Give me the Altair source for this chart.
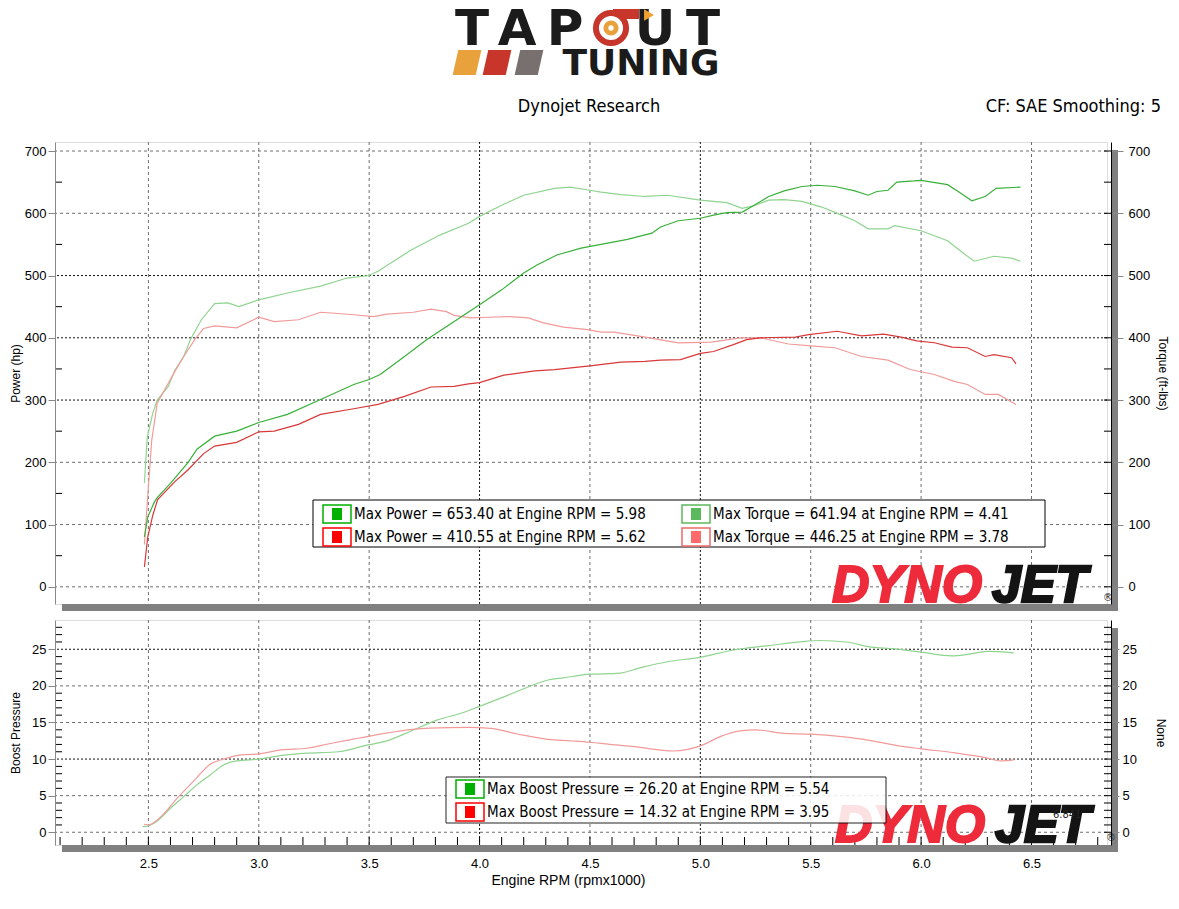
import altair as alt
import pandas as pd

# ---------------- data ----------------
# Run A (green) power, hp
pa_rpm = [2.482, 2.497, 2.527, 2.542, 2.60, 2.68, 2.72, 2.80, 2.90, 3.00, 3.13, 3.28, 3.43, 3.50, 3.55,
          3.66, 3.76, 3.885, 4.00, 4.10, 4.20, 4.26, 4.35, 4.46, 4.55, 4.67, 4.78, 4.82, 4.90, 5.00,
          5.06, 5.12, 5.19, 5.24, 5.31, 5.38, 5.46, 5.53, 5.61, 5.70, 5.76, 5.80, 5.85, 5.89, 5.97,
          6.00, 6.12, 6.18, 6.23, 6.29, 6.34, 6.45]
pa_hp = [80, 112, 136, 144, 166, 200, 221, 242, 250, 264, 277, 301, 325, 333, 341,
         370, 397, 426, 453, 477, 504, 517, 533, 544, 550, 558, 568, 578, 588, 592,
         597, 601, 602, 612, 627, 636, 643, 645, 643, 636, 629, 635, 637, 650, 652,
         653, 646, 632, 620, 627, 640, 642]

# Run B (red) power, hp
pb_rpm = [2.482, 2.497, 2.52, 2.542, 2.62, 2.68, 2.75, 2.80, 2.90, 3.00, 3.07, 3.18, 3.28, 3.43, 3.54,
          3.66, 3.78, 3.885, 3.95, 4.00, 4.11, 4.25, 4.34, 4.50, 4.64, 4.75, 4.82, 4.91, 5.00, 5.06,
          5.15, 5.21, 5.27, 5.43, 5.49, 5.62, 5.73, 5.83, 5.91, 5.98, 6.06, 6.14, 6.21, 6.29, 6.33,
          6.41, 6.43]
pb_hp = [32, 80, 115, 140, 169, 188, 214, 226, 232, 249, 250, 261, 277, 286, 293,
         306, 321, 322, 326, 328, 340, 347, 349, 355, 361, 362, 364, 365, 375, 378,
         389, 397, 400, 401, 405, 410.5, 403, 406, 401, 395, 392, 385, 384, 370, 373,
         368, 358]

# Run A (green) torque, ft-lbs
ta_rpm = [2.482, 2.495, 2.52, 2.54, 2.59, 2.62, 2.66, 2.69, 2.74, 2.80, 2.86, 2.91, 3.00, 3.13, 3.28,
          3.40, 3.50, 3.54, 3.69, 3.82, 3.95, 4.00, 4.10, 4.20, 4.34, 4.41, 4.50, 4.55, 4.64, 4.75,
          4.85, 5.00, 5.12, 5.19, 5.24, 5.31, 5.38, 5.46, 5.55, 5.64, 5.70, 5.76, 5.85, 5.88, 6.00,
          6.12, 6.18, 6.24, 6.33, 6.41, 6.45]
ta_tq = [167, 241, 279, 300, 322, 348, 370, 397, 429, 455, 456, 450, 461, 472, 483,
         496, 500, 507, 541, 565, 584, 595, 613, 629, 640, 642, 637, 634, 630, 627,
         629, 621, 617, 608, 612, 621, 622, 619, 610, 597, 588, 575, 575, 580, 572,
         556, 539, 523, 531, 528, 523]

# Run B (red) torque, ft-lbs
tb_rpm = [2.482, 2.50, 2.515, 2.54, 2.59, 2.62, 2.66, 2.71, 2.75, 2.80, 2.90, 3.00, 3.07, 3.18, 3.28,
          3.36, 3.43, 3.52, 3.58, 3.70, 3.78, 3.85, 3.885, 3.96, 4.04, 4.14, 4.22, 4.29, 4.38, 4.49,
          4.55, 4.61, 4.75, 4.90, 5.05, 5.18, 5.27, 5.40, 5.50, 5.61, 5.73, 5.85, 5.95, 6.06, 6.15,
          6.21, 6.29, 6.35, 6.43]
tb_tq = [68, 160, 235, 295, 327, 346, 370, 397, 415, 419, 416, 433, 426, 429, 441,
         439, 437, 434, 438, 441, 446, 442, 436, 432, 433, 434, 432, 424, 417, 413,
         409, 409, 401, 392, 393, 400, 400, 390, 387, 384, 370, 364, 349, 341, 330,
         325, 309, 309, 293]

# Boost pressure, run A (green)
ba_rpm = [2.474, 2.497, 2.54, 2.60, 2.66, 2.72, 2.78, 2.84, 2.90, 3.00, 3.10, 3.22, 3.36, 3.48, 3.58,
          3.69, 3.81, 3.93, 4.00, 4.11, 4.20, 4.31, 4.38, 4.50, 4.625, 4.73, 4.85, 5.00, 5.15, 5.31,
          5.46, 5.54, 5.67, 5.76, 5.88, 6.00, 6.14, 6.21, 6.30, 6.42]
ba_psi = [0.77, 0.86, 1.55, 3.28, 4.87, 6.47, 7.83, 9.2, 9.75, 10.0, 10.47, 10.8, 11.0, 11.84, 12.48,
          13.84, 15.35, 16.4, 17.2, 18.5, 19.6, 20.8, 21.1, 21.6, 21.7, 22.5, 23.3, 23.9, 24.9, 25.5,
          26.05, 26.2, 25.96, 25.36, 25.05, 24.6, 24.1, 24.3, 24.7, 24.5]

# Boost pressure, run B (red)
bb_rpm = [2.48, 2.50, 2.557, 2.63, 2.71, 2.78, 2.84, 2.92, 3.00, 3.10, 3.22, 3.33, 3.45, 3.57, 3.70,
          3.86, 3.95, 4.05, 4.17, 4.31, 4.41, 4.50, 4.59, 4.70, 4.88, 5.00, 5.09, 5.18, 5.25, 5.38,
          5.50, 5.64, 5.76, 5.88, 6.00, 6.14, 6.29, 6.36, 6.42]
bb_psi = [1.1, 1.0, 2.14, 4.64, 7.15, 9.3, 10.0, 10.56, 10.7, 11.25, 11.48, 12.16, 12.84, 13.52, 14.07,
          14.3, 14.32, 14.2, 13.43, 12.7, 12.5, 12.3, 12.0, 11.7, 11.1, 11.8, 13.07, 13.84, 14.0, 13.5,
          13.4, 13.07, 12.6, 11.9, 11.4, 10.9, 10.2, 9.75, 9.9]

# tick values / labels
x_grid = [2.5, 3.0, 3.5, 4.0, 4.5, 5.0, 5.5, 6.0, 6.5]
x_grid_dark = [4.0, 5.0]
x_minor = [round(2.1 + 0.1 * i, 1) for i in range(48)]
y1_major = [0, 100, 200, 300, 400, 500, 600, 700]
y1_dark = [300, 400, 500]
y1_minor = [50, 150, 250, 350, 450, 550, 650]
y2_major = [0, 5, 10, 15, 20, 25]
y2_dark = [10, 25]
y2_minor = [v for v in range(0, 29) if v % 5 != 0]
y2_all = list(range(0, 29))

top_legend = ["Max Power = 653.40 at Engine RPM = 5.98", "Max Torque = 641.94 at Engine RPM = 4.41",
              "Max Power = 410.55 at Engine RPM = 5.62", "Max Torque = 446.25 at Engine RPM = 3.78"]
bot_legend = ["Max Boost Pressure = 26.20 at Engine RPM = 5.54",
              "Max Boost Pressure = 14.32 at Engine RPM = 3.95"]

# ---------------- styling ----------------
FONT = "DejaVu Sans Condensed, Liberation Sans, DejaVu Sans, sans-serif"
LOGO_FONT = "DejaVu Sans"
W, H1, H2 = 1052, 462, 225
X_DOM = [2.077, 6.842]
Y1_DOM = [-27.6, 714.5]
Y2_DOM = [-1.74, 29.0]
GRID = "#6E6E6E"
GRID_DARK = "#111111"

xs = alt.Scale(domain=X_DOM, nice=False, zero=False)
y1s = alt.Scale(domain=Y1_DOM, nice=False, zero=False)
y2s = alt.Scale(domain=Y2_DOM, nice=False, zero=False)

one = pd.DataFrame({"k": [0]})


def txt(text, x, y, size=15, color="black", align="left", baseline="middle",
        weight="normal", style="normal", font=FONT, stroke=None, sw=0):
    kw = dict(text=text, align=align, baseline=baseline, fontSize=size, color=color, font=font,
              fontWeight=weight, fontStyle=style)
    if stroke:
        kw.update(stroke=stroke, strokeWidth=sw)
    return alt.Chart(one).mark_text(**kw).encode(x=alt.value(x), y=alt.value(y))


def box(x, x2, y, y2, fill="white", stroke=None, sw=1, opacity=1.0):
    kw = dict(fill=fill, opacity=opacity)
    if stroke:
        kw.update(stroke=stroke, strokeWidth=sw)
    return alt.Chart(one).mark_rect(**kw).encode(
        x=alt.value(x), x2=alt.value(x2), y=alt.value(y), y2=alt.value(y2))


def sym(x, y, shape, size, fill, stroke=None, sw=0):
    kw = dict(shape=shape, size=size, fill=fill, filled=True, opacity=1)
    if stroke:
        kw.update(stroke=stroke, strokeWidth=sw)
    else:
        kw.update(strokeWidth=0)
    return alt.Chart(one).mark_point(**kw).encode(x=alt.value(x), y=alt.value(y))


def hgrid(vals, scale, axis, dark=False):
    return alt.Chart(pd.DataFrame({"g": vals})).mark_rule(
        strokeDash=([2, 2] if dark else [3, 3]), color=(GRID_DARK if dark else GRID),
        strokeWidth=1).encode(y=alt.Y("g:Q", scale=scale, axis=axis))


def vgrid(vals, axis, dark=False):
    return alt.Chart(pd.DataFrame({"g": vals})).mark_rule(
        strokeDash=([2, 2] if dark else [3, 3]), color=(GRID_DARK if dark else GRID),
        strokeWidth=1).encode(x=alt.X("g:Q", scale=xs, axis=axis))


def yticks(vals, scale, x0, x1):
    return alt.Chart(pd.DataFrame({"v": vals})).mark_rule(color="black", strokeWidth=1).encode(
        y=alt.Y("v:Q", scale=scale, axis=None), x=alt.value(x0), x2=alt.value(x1))


def lines(df, scale, xaxis, yaxis, names, colors, interp="linear"):
    return alt.Chart(df).mark_line(strokeWidth=1.2, interpolate=interp).encode(
        x=alt.X("rpm:Q", scale=xs, axis=xaxis),
        y=alt.Y("val:Q", scale=scale, axis=yaxis),
        color=alt.Color("s:N", scale=alt.Scale(domain=names, range=colors), legend=None),
    )


def sdf(rpm, val, name):
    return pd.DataFrame({"rpm": rpm, "val": val, "s": name})


def legend_row(x, y, text, edge, fill):
    return [box(x, x + 28, y - 9, y + 9, fill="white", stroke=edge, sw=1.5),
            box(x + 9, x + 19, y - 6, y + 6, fill=fill),
            txt(text, x + 31, y, size=15)]


def dynojet(x, base):
    red, black = "#EE2B3B", "#141414"
    return [txt("DYNO", x + 1, base - 1, size=52, color=red, baseline="alphabetic",
                weight="bold", style="italic", font="Liberation Sans", stroke=red, sw=2),
            txt("JET", x + 161, base - 1, size=52, color=black, baseline="alphabetic",
                weight="bold", style="italic", font="Liberation Sans", stroke=black, sw=2.5),
            txt("®", x + 272, base - 5, size=11, color="#222")]


def vaxis(orient, values, title, tick, pad, tx, h):
    kw = dict(values=values, grid=False, tickSize=tick, labelPadding=pad, labelFontSize=13,
              title=title, titleFontSize=12, titleFontWeight="normal",
              titleAngle=(-90 if orient == "left" else 90), titleX=tx, titleY=h / 2,
              titleBaseline="middle", titleAlign="center", zindex=1)
    if orient == "right":
        kw.update(orient="right", offset=4, domainColor="black")
    return alt.Axis(**kw)


# ---------------- top panel ----------------
left_top = vaxis("left", y1_major, "Power (hp)", 7, 2, -40, H1)
right_top = vaxis("right", y1_major, "Torque (ft-lbs)", 12, 5, 51, H1)

top_df = pd.concat([sdf(ta_rpm, ta_tq, "Torque A"), sdf(tb_rpm, tb_tq, "Torque B"),
                    sdf(pa_rpm, pa_hp, "Power A"), sdf(pb_rpm, pb_hp, "Power B")])

top_layers = [
    hgrid([v for v in y1_major if v not in y1_dark], y1s, right_top),
    hgrid(y1_dark, y1s, None, dark=True),
    vgrid([v for v in x_grid if v not in x_grid_dark], None),
    vgrid(x_grid_dark, None, dark=True),
    yticks(y1_minor, y1s, 0, 7),
    yticks(y1_major + y1_minor, y1s, W - 3, W + 4),
    lines(top_df, y1s, None, left_top, ["Torque A", "Torque B", "Power A", "Power B"],
          ["#8FD48F", "#F29A9A", "#38B038", "#D83838"]),
    box(7, W + 11, H1, H1 + 7, fill="#808080"),
    box(W + 4, W + 11, 8, H1 + 7, fill="#808080"),
]
top_layers += dynojet(776, H1 - 1)
# legend box
top_layers.append(box(258, 990, 358, 405, fill="white", stroke="black", sw=1))
top_layers += legend_row(268, 372, top_legend[0], "#00B000", "#00B000")
top_layers += legend_row(627, 372, top_legend[1], "#5CB85C", "#5CB85C")
top_layers += legend_row(268, 395, top_legend[2], "#FF0000", "#FF0000")
top_layers += legend_row(627, 395, top_legend[3], "#F06A6A", "#FF6B6B")

# header: logo + titles (positions relative to the top panel origin)
INK = "#1B1B1B"
for letter, cx in [("T", 417), ("A", 462), ("P", 510), ("U", 600), ("T", 648)]:
    top_layers.append(txt(letter, cx, -97, size=50, color=INK, align="center",
                          baseline="alphabetic", weight="bold", font=LOGO_FONT))
para = "M -1.15 1 L -0.7 -1 L 1.15 -1 L 0.7 1 Z"
top_layers += [
    sym(412, -79.5, para, 625, "#E9A23B"),
    sym(442, -79.5, para, 625, "#C7352B"),
    sym(474, -79.5, para, 625, "#77706E"),
    txt("TUNING", 586, -67, size=36, color=INK, align="center", baseline="alphabetic",
        weight="bold", font=LOGO_FONT),
    box(558, 584, -133, -123, fill="#C7352B"),
    sym(594, -127, "triangle-right", 130, "#F0A030"),
    sym(556, -114, "circle", 908, "white", stroke="#C7352B", sw=6),
    sym(556, -114, "circle", 230, "#E9A23B"),
    sym(556, -114, "circle", 28, "white"),
    txt("Dynojet Research", 534, -30, size=18, align="center", baseline="alphabetic"),
    txt("CF: SAE Smoothing: 5", 1106, -30, size=18, align="right", baseline="alphabetic"),
]

top = alt.layer(*top_layers).properties(width=W, height=H1).resolve_scale(y="independent")

# ---------------- bottom panel ----------------
left_bot = vaxis("left", y2_major, "Boost Pressure", 7, 2, -40, H2)
right_bot = vaxis("right", y2_major, "None", 8, 3, 49, H2)
x_bot = alt.Axis(values=x_grid, format=".1f", ticks=False, tickSize=0, domain=False, grid=False,
                 labelPadding=12, labelFontSize=13, title="Engine RPM (rpmx1000)",
                 titleFontSize=14, titleFontWeight="normal", titleX=513, titleY=28,
                 titleBaseline="top", titleAlign="center", zindex=1)

bot_df = pd.concat([sdf(ba_rpm, ba_psi, "Boost A"), sdf(bb_rpm, bb_psi, "Boost B")])

bot_layers = [
    hgrid([v for v in y2_major if v not in y2_dark], y2s, right_bot),
    hgrid(y2_dark, y2s, None, dark=True),
    vgrid([v for v in x_grid if v not in x_grid_dark], x_bot),
    vgrid(x_grid_dark, x_bot, dark=True),
    yticks(y2_minor, y2s, 0, 7),
    yticks(y2_all, y2s, W - 3, W + 4),
    alt.Chart(pd.DataFrame({"t": x_minor})).mark_rule(color="black", strokeWidth=1).encode(
        x=alt.X("t:Q", scale=xs, axis=x_bot), y=alt.value(H2 - 8), y2=alt.value(H2)),
    lines(bot_df, y2s, x_bot, left_bot, ["Boost A", "Boost B"], ["#4CC04C", "#E04848"],
          interp="monotone"),
    box(7, W + 11, H2, H2 + 7, fill="#808080"),
    box(W + 4, W + 11, 8, H2 + 7, fill="#808080"),
]
bot_layers += dynojet(779, H2 - 2)
bot_layers.append(txt("6.841", 998, 195, size=11, color="#222"))
bot_layers.append(box(391, 831, 157, 203, fill="white", stroke="black", sw=1, opacity=0.86))
bot_layers += legend_row(401, 169, bot_legend[0], "#00B000", "#00B000")
bot_layers += legend_row(401, 192, bot_legend[1], "#FF0000", "#FF0000")

bottom = alt.layer(*bot_layers).properties(width=W, height=H2).resolve_scale(y="independent")

chart = alt.vconcat(top, bottom, spacing=16, bounds="flush").properties(
    padding={"top": -8, "left": 0, "right": 0, "bottom": 0}
).configure_view(stroke="#444444", strokeWidth=1).configure_axis(
    labelFont=FONT, titleFont=FONT, labelColor="black", titleColor="black",
    titleFontWeight="normal", tickColor="black", domainColor="#333333"
).configure(background="white")

chart.save("out.html", embed_options={"renderer": "svg", "actions": False})
